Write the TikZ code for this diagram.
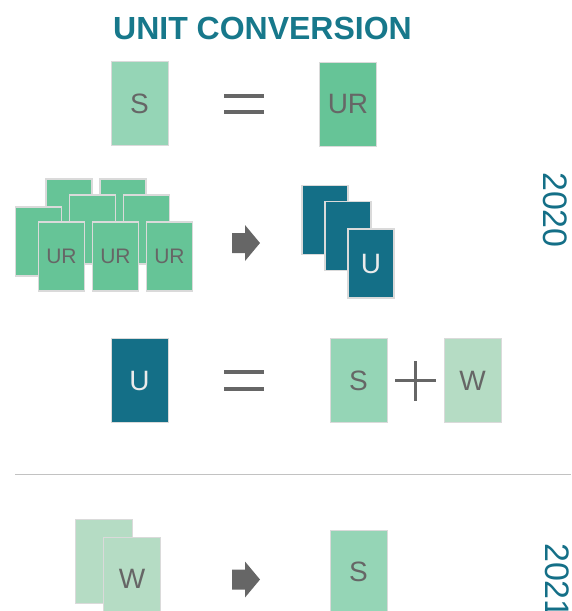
\documentclass[tikz,border=0pt]{standalone}
\usepackage{fontspec}
\setmainfont{Liberation Sans}
\definecolor{sgreen}{HTML}{95D5B6}
\definecolor{urgreen}{HTML}{66C497}
\definecolor{wgreen}{HTML}{B5DCC4}
\definecolor{uteal}{HTML}{146F87}
\definecolor{titleteal}{HTML}{17788B}
\definecolor{ink}{HTML}{666666}
\definecolor{edge}{HTML}{DADADA}
\definecolor{rulegray}{HTML}{C2C2C2}
\tikzset{
  card/.style={draw=edge, line width=0.8pt, minimum width=57pt, minimum height=84pt,
    inner sep=0pt, text=ink, font=\fontsize{28}{28}\selectfont},
  stackcard/.style={card, line width=1.2pt, minimum width=46pt, minimum height=69pt,
    font=\fontsize{21}{21}\selectfont},
  sfill/.style={fill=sgreen},
  urfill/.style={fill=urgreen},
  wfill/.style={fill=wgreen},
  ufill/.style={fill=uteal, text=white!92!black},
  sign/.style={draw=ink, line width=3.5pt},
  year/.style={rotate=-90, text=uteal, font=\fontsize{34}{34}\selectfont}
}
\begin{document}
\begin{tikzpicture}[x=1pt, y=-1pt]
                \useasboundingbox (0,0) rectangle (571,611);
                \clip (0,0) rectangle (571,611);
                \node[font=\fontsize{32}{32}\selectfont\bfseries, text=titleteal] (title) at (262.5,28) {UNIT CONVERSION};
                
                % S = UR
                \node[card, sfill] (s1) at (139.5,103.5) {S};
                \draw[sign] (224,96) -- (264,96) (224,112) -- (264,112);
                \node[card, urfill] (ur1) at (348,104) {UR};
                
                % many UR -> U
                \node[stackcard, urfill] (ura) at (69,213.5) {};
                \node[stackcard, urfill] (urb) at (123,213.5) {};
                \node[stackcard, urfill] (urc) at (92.5,229.5) {};
                \node[stackcard, urfill] (urd) at (146.5,229.5) {};
                \node[stackcard, urfill] (ure) at (38.5,241.5) {};
                \node[stackcard, urfill] (urf) at (61.5,256.5) {UR};
                \node[stackcard, urfill] (urg) at (115.5,256.5) {UR};
                \node[stackcard, urfill] (urh) at (169.5,256.5) {UR};
                
                \fill[ink] (232,233) -- (245,233) -- (245,225) -- (260,243) -- (245,261) -- (245,253) -- (232,253) -- cycle;
                
                \node[stackcard, ufill] (ua) at (325,220) {};
                \node[stackcard, ufill] (ub) at (348,236) {};
                \node[stackcard, ufill, font=\fontsize{28}{28}\selectfont] (uc) at (371,263.5) {U};
                
                \node[year] (y2020) at (555.5,210) {2020};
                
                % U = S + W
                \node[card, ufill] (u2) at (139.5,380.5) {U};
                \draw[sign] (224,372) -- (264,372) (224,389) -- (264,389);
                \node[card, sfill] (s2) at (358.5,380.5) {S};
                \draw[sign, line width=3pt] (395,380) -- (436,380) (415.5,361) -- (415.5,401);
                \node[card, wfill] (w2) at (472.5,380.5) {W};
                
                \draw[rulegray, line width=1pt] (15,474) -- (571,474);
                
                % W -> S
                \node[card, wfill] (wa) at (104,561) {};
                \node[card, wfill] (wb) at (132,579) {W};
                \fill[ink] (232,569.5) -- (245,569.5) -- (245,561.5) -- (260,579.5) -- (245,597.5) -- (245,589.5) -- (232,589.5) -- cycle;
                \node[card, sfill] (s3) at (358.5,572) {S};
                \node[year] (y2021) at (557.5,581) {2021};
            \end{tikzpicture}
\end{document}
